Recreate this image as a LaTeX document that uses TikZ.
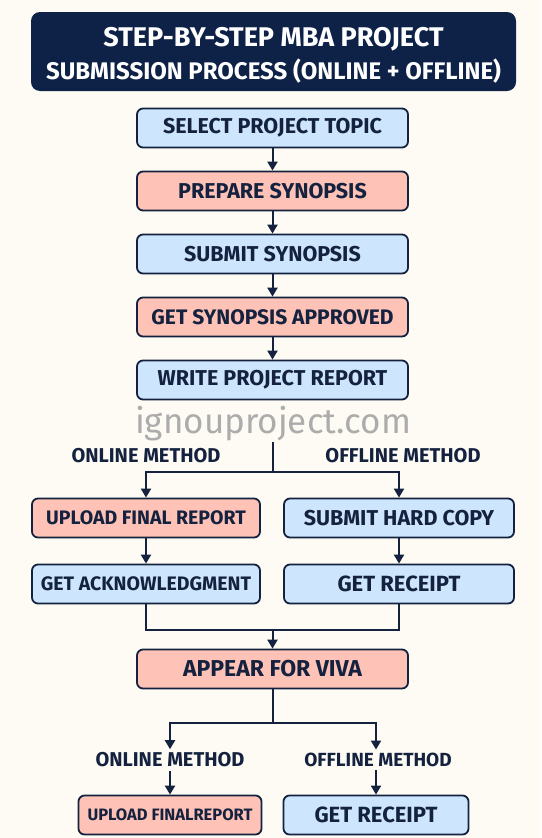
\documentclass[tikz,border=0pt]{standalone}
\usepackage{fontspec}
\setmainfont{Fira Sans}
\usetikzlibrary{arrows.meta}
\definecolor{cream}{HTML}{FDFBF4}
\definecolor{navy}{HTML}{0E2248}
\definecolor{ink}{HTML}{14223F}
\definecolor{skyfill}{HTML}{CDE6FD}
\definecolor{salmonfill}{HTML}{FEC3B6}
\newcommand{\boxfont}[1]{\bfseries\fontsize{#1}{#1}\selectfont}
\begin{document}
\begin{tikzpicture}[
  x=1pt, y=-1pt,
  box/.style={draw=ink, line width=1.8pt, rounded corners=6pt, minimum height=39pt,
    inner sep=0pt, font=\boxfont{21.5}, text=ink},
  blue box/.style={box, fill=skyfill},
  pink box/.style={box, fill=salmonfill},
  method/.style={font=\boxfont{20}, text=ink},
  link/.style={draw=ink, line width=2pt},
  arrow/.style={link, -{Triangle[length=9pt,width=10pt]}},
]
  \fill[cream] (0,0) rectangle (541,838);
  % title
  \node[fill=navy, rounded corners=9pt, minimum width=485pt, minimum height=79pt] (title) at (273.5,51.5) {};
  \node[text=white, align=center, font=\bfseries\fontsize{24}{33}\selectfont]
    (heading) at (273.5,55) {{\fontsize{27}{33}\selectfont STEP-BY-STEP MBA PROJECT}\\SUBMISSION PROCESS (ONLINE + OFFLINE)};
  % main steps
  \node[blue box, minimum width=271pt] (topic) at (272.5,128) {SELECT PROJECT TOPIC};
  \node[pink box, minimum width=271pt] (prepare) at (272.5,191) {PREPARE SYNOPSIS};
  \node[blue box, minimum width=271pt] (submit) at (272.5,254) {SUBMIT SYNOPSIS};
  \node[pink box, minimum width=271pt, font=\boxfont{21}] (approved) at (272.5,317) {GET SYNOPSIS APPROVED};
  \node[blue box, minimum width=271pt] (write) at (272.5,380) {WRITE PROJECT REPORT};
  \node[text=gray!65, font=\fontsize{35}{36}\selectfont] (mark) at (273,424) {ignouproject.com};
  \draw[arrow] (topic) -- (prepare);
  \draw[arrow] (prepare) -- (submit);
  \draw[arrow] (submit) -- (approved);
  \draw[arrow] (approved) -- (write);
  % first split
  \coordinate (split1) at (272.5,472);
  \node[method] (online1) at (146,456) {ONLINE METHOD};
  \node[method] (offline1) at (403,456) {OFFLINE METHOD};
  \node[pink box, minimum width=228pt, font=\boxfont{19.5}] (upload1) at (146,518) {UPLOAD FINAL REPORT};
  \node[blue box, minimum width=230pt] (hardcopy) at (399,518) {SUBMIT HARD COPY};
  \node[blue box, minimum width=228pt, font=\boxfont{19.5}] (ack) at (146,584) {GET ACKNOWLEDGMENT};
  \node[blue box, minimum width=230pt, font=\boxfont{22}] (receipt1) at (399,584) {GET RECEIPT};
  \draw[link] (write.south |- 0,442) -- (split1);
  \draw[arrow] (split1) -| (upload1.north);
  \draw[arrow] (split1) -| (hardcopy.north);
  \draw[arrow] (upload1) -- (ack);
  \draw[arrow] (hardcopy) -- (receipt1);
  % join
  \coordinate (join) at (272.5,630);
  \node[pink box, minimum width=271pt, font=\boxfont{23}] (viva) at (272.5,669) {APPEAR FOR VIVA};
  \draw[link] (ack.south) |- (join);
  \draw[link] (receipt1.south) |- (join);
  \draw[arrow] (join) -- (viva);
  % second split
  \coordinate (split2) at (272.5,723);
  \node[method] (online2) at (170,760) {ONLINE METHOD};
  \node[method, font=\boxfont{19}] (offline2) at (378,760) {OFFLINE METHOD};
  \node[pink box, minimum width=183pt, font=\boxfont{16.5}] (upload2) at (170,815) {UPLOAD FINALREPORT};
  \node[blue box, minimum width=185pt, font=\boxfont{22}] (receipt2) at (376,815) {GET RECEIPT};
  \draw[link] (viva) -- (split2);
  \draw[arrow] (split2) -| (online2.north);
  \draw[arrow] (split2) -| (offline2.north -| receipt2.north);
  \draw[arrow] (online2) -- (upload2);
  \draw[arrow] (offline2.south -| receipt2.north) -- (receipt2);
\end{tikzpicture}
\end{document}
